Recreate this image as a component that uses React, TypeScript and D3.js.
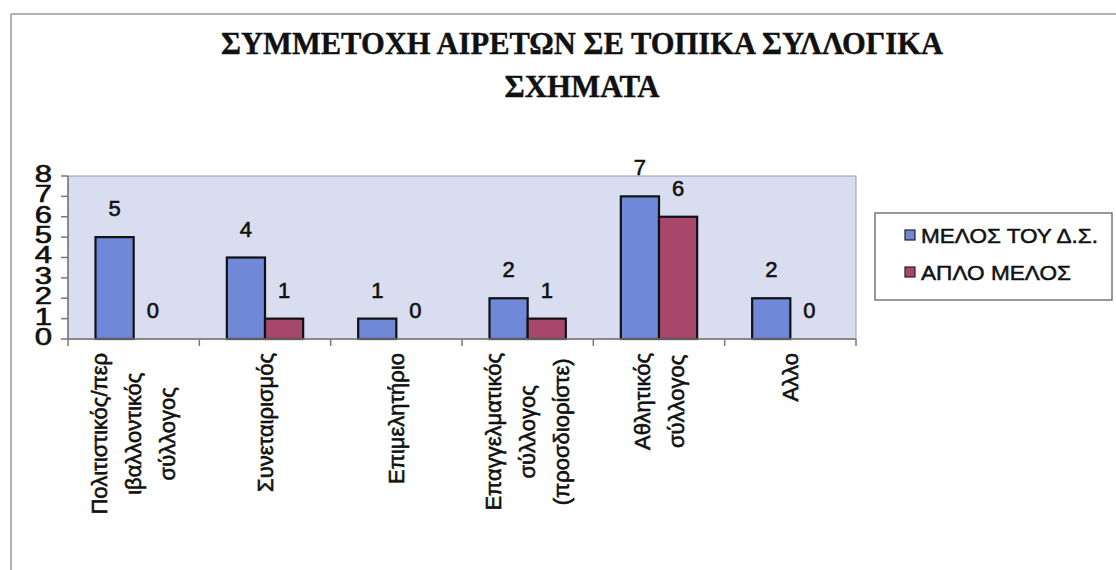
import React, { useEffect, useRef } from "react";
import * as d3 from "d3";

const TITLE_LINES = ["ΣΥΜΜΕΤΟΧΗ ΑΙΡΕΤΩΝ ΣΕ ΤΟΠΙΚΑ ΣΥΛΛΟΓΙΚΑ", "ΣΧΗΜΑΤΑ"];
const CATEGORIES = [
  "Πολιτιστικός/περ\nιβαλλοντικός\nσύλλογος",
  "Συνεταιρισμός",
  "Επιμελητήριο",
  "Επαγγελματικός\nσύλλογος\n(προσδιορίστε)",
  "Αθλητικός\nσύλλογος",
  "Αλλο",
];
const SERIES_NAMES = ["ΜΕΛΟΣ ΤΟΥ Δ.Σ.", "ΑΠΛΟ ΜΕΛΟΣ"];
const BOARD_MEMBER = [5, 4, 1, 2, 7, 2];
const SIMPLE_MEMBER = [0, 1, 0, 1, 6, 0];
const Y_TICKS = [0, 1, 2, 3, 4, 5, 6, 7, 8];

const COLORS = ["#7088d8", "#a8476c"];
const W = 1116;
const H = 570;
const PLOT = { left: 68, right: 856, top: 176, bottom: 339 };
const SANS = "'Liberation Sans', Arial, sans-serif";
const SERIF = "'Liberation Serif', 'Times New Roman', serif";
const INK = "#111";

export default function App() {
  const ref = useRef<SVGSVGElement | null>(null);

  useEffect(() => {
    const svg = d3.select(ref.current);
    svg.selectAll("*").remove();

    // frame
    svg.append("rect").attr("width", W).attr("height", H).attr("fill", "#ffffff");
    svg.append("line").attr("x1", 11).attr("x2", W).attr("y1", 14).attr("y2", 14)
      .attr("stroke", "#9a9a9a").attr("stroke-width", 1.5);
    svg.append("line").attr("x1", 11).attr("x2", 11).attr("y1", 14).attr("y2", H)
      .attr("stroke", "#9a9a9a").attr("stroke-width", 1.5);

    // title
    const titleY = [54, 97];
    const titleLen = [722, 155];
    TITLE_LINES.forEach((t, i) => {
      svg.append("text").attr("x", 582).attr("y", titleY[i])
        .attr("text-anchor", "middle")
        .attr("font-family", SERIF).attr("font-weight", "bold")
        .attr("font-size", 31)
        .attr("textLength", titleLen[i]).attr("lengthAdjust", "spacingAndGlyphs")
        .attr("fill", INK).attr("stroke", INK).attr("stroke-width", 0.4).text(t);
    });

    const x0 = d3.scaleBand<string>().domain(CATEGORIES).range([PLOT.left, PLOT.right]).padding(0);
    const x1 = d3.scaleBand<number>().domain([0, 1])
      .range([27.5, x0.bandwidth() - 27.5]).padding(0);
    const y = d3.scaleLinear().domain([0, 8]).range([PLOT.bottom, PLOT.top]);

    // plot area
    svg.append("rect").attr("x", PLOT.left).attr("y", PLOT.top)
      .attr("width", PLOT.right - PLOT.left).attr("height", PLOT.bottom - PLOT.top)
      .attr("fill", "#d9ddf0").attr("stroke", "#9a9aa8").attr("stroke-width", 1);

    // bars
    const seriesData = [BOARD_MEMBER, SIMPLE_MEMBER];
    const g = svg.append("g");
    CATEGORIES.forEach((c, ci) => {
      seriesData.forEach((vals, si) => {
        const v = vals[ci];
        const bx = (x0(c) as number) + (x1(si) as number);
        const bw = x1.bandwidth();
        if (v > 0) {
          g.append("rect").attr("x", bx).attr("y", y(v))
            .attr("width", bw).attr("height", y(0) - y(v))
            .attr("fill", COLORS[si]).attr("stroke", INK).attr("stroke-width", 2.2);
        }
        g.append("text").attr("x", bx + bw / 2).attr("y", y(v) - 21)
          .attr("text-anchor", "middle").attr("font-family", SANS)
          .attr("font-size", 22).attr("fill", INK)
          .attr("stroke", INK).attr("stroke-width", 0.6)
          .text(String(v));
      });
    });

    // y axis
    svg.append("line").attr("x1", PLOT.left).attr("x2", PLOT.left)
      .attr("y1", PLOT.top).attr("y2", PLOT.bottom + 1)
      .attr("stroke", "#777").attr("stroke-width", 1.5);
    Y_TICKS.forEach((t) => {
      svg.append("line").attr("x1", PLOT.left - 7).attr("x2", PLOT.left)
        .attr("y1", y(t)).attr("y2", y(t)).attr("stroke", "#777").attr("stroke-width", 1.5);
      svg.append("text").attr("x", 52).attr("y", y(t) + 6)
        .attr("text-anchor", "end").attr("font-family", SANS)
        .attr("font-size", 23).attr("fill", INK)
        .attr("stroke", INK).attr("stroke-width", 0.6)
        .attr("transform", `translate(52,0) scale(1.35,1) translate(-52,0)`)
        .text(String(t));
    });

    // x axis
    svg.append("line").attr("x1", PLOT.left).attr("x2", PLOT.right)
      .attr("y1", PLOT.bottom).attr("y2", PLOT.bottom)
      .attr("stroke", "#777").attr("stroke-width", 1.5);
    d3.range(CATEGORIES.length + 1).forEach((i) => {
      const xx = PLOT.left + i * x0.bandwidth();
      svg.append("line").attr("x1", xx).attr("x2", xx)
        .attr("y1", PLOT.bottom).attr("y2", PLOT.bottom + 7)
        .attr("stroke", "#777").attr("stroke-width", 1.5);
    });

    // x labels (rotated)
    CATEGORIES.forEach((c) => {
      const lines = c.split("\n");
      const cx = (x0(c) as number) + x0.bandwidth() / 2;
      const lg = svg.append("g").attr("transform", `translate(${cx},353) rotate(-90)`);
      const texts = lines.map((ln, k) =>
        lg.append("text")
          .attr("y", (k - (lines.length - 1) / 2) * 34)
          .attr("dominant-baseline", "central")
          .attr("text-anchor", "middle")
          .attr("font-family", SANS).attr("font-size", 22).attr("fill", INK)
          .attr("stroke", INK).attr("stroke-width", 0.6)
          .text(ln)
      );
      const lens = texts.map((t) => (t.node() as SVGTextElement).getComputedTextLength());
      const maxLen = d3.max(lens) || 0;
      texts.forEach((t) => t.attr("x", -maxLen / 2));
    });

    // legend
    svg.append("rect").attr("x", 875).attr("y", 213).attr("width", 237).attr("height", 87)
      .attr("fill", "#fff").attr("stroke", "#777").attr("stroke-width", 1.5);
    SERIES_NAMES.forEach((name, i) => {
      const ly = 235 + i * 37;
      svg.append("rect").attr("x", 905).attr("y", ly - 5).attr("width", 10).attr("height", 10)
        .attr("fill", COLORS[i]).attr("stroke", "#222").attr("stroke-width", 1.2);
      svg.append("text").attr("x", 921).attr("y", ly + 8)
        .attr("font-family", SANS).attr("font-size", 21).attr("fill", INK)
        .attr("stroke", INK).attr("stroke-width", 0.5)
        .attr("textLength", i === 0 ? 177 : 150).attr("lengthAdjust", "spacingAndGlyphs")
        .text(name);
    });
  }, []);

  return (
    <svg ref={ref} width={W} height={H} style={{ display: "block", position: "absolute", left: 0, top: 0 }} />
  );
}
